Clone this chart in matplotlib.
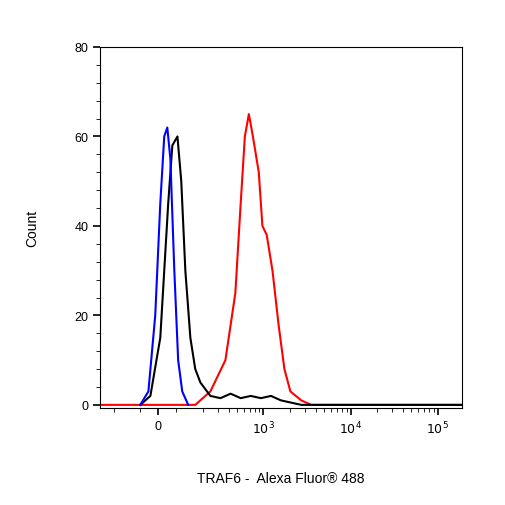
import matplotlib
matplotlib.use("Agg")
import matplotlib.pyplot as plt
import numpy as np
plt.rcParams['font.family'] = ['Liberation Sans', 'DejaVu Sans']

blue_x = [-100, -55, -17, 11, 33, 50, 67, 89, 105, 117, 137]
blue_y = [0, 3, 20, 45, 60, 62, 55, 30, 10, 3, 0]
black_x = [-100, -44, 11, 55, 78, 103, 114, 127, 145, 165, 189, 246, 321, 420, 548, 716, 935, 1220, 1590, 2720, 190000]
black_y = [0, 2, 15, 45, 58, 60, 50, 30, 15, 8, 5, 2, 1.5, 2.5, 1.5, 2, 1.5, 2, 1, 0, 0]
red_x = [-290, 165, 246, 366, 476, 548, 612, 680, 757, 884, 973, 1090, 1270, 1490, 1740, 2040, 2720, 3530, 190000]
red_y = [0, 0, 3, 10, 25, 45, 60, 65, 60, 52, 40, 38, 30, 18, 8, 3, 1, 0, 0]

fig = plt.figure(figsize=(5.06, 5.06), dpi=100)
ax = fig.add_axes([100/506, 1-409/506, 362/506, 361/506])
ax.set_xscale('symlog', linthresh=100, linscale=0.186)
ax.plot(red_x, red_y, color='#ff0000', lw=1.5)
ax.plot(black_x, black_y, color='black', lw=1.5)
ax.plot(blue_x, blue_y, color='#0000ff', lw=1.5)
ax.set_xlim(-290, 190000)
ax.set_ylim(-0.7, 80)
ax.set_yticks([0, 20, 40, 60, 80])
ax.set_yticks(np.arange(0, 81, 4), minor=True)
ax.set_xticks([0, 1000, 10000, 100000])
ax.set_xticklabels(['0', '$10^3$', '$10^4$', '$10^5$'])
minor = [-200, -100, 100, 200, 300, 400, 500, 600, 700, 800, 900] + \
        [k*10**e for e in (3, 4) for k in range(2, 10)]
ax.set_xticks(minor, minor=True)
ax.tick_params(labelsize=9, width=1.2)
ax.tick_params(which='major', length=5)
ax.tick_params(which='minor', length=3)
ax.set_ylabel('Count', fontsize=10, labelpad=25)
ax.set_xlabel('TRAF6 -  Alexa Fluor® 488', fontsize=10, labelpad=25)
fig.savefig('out.png', dpi=100)
